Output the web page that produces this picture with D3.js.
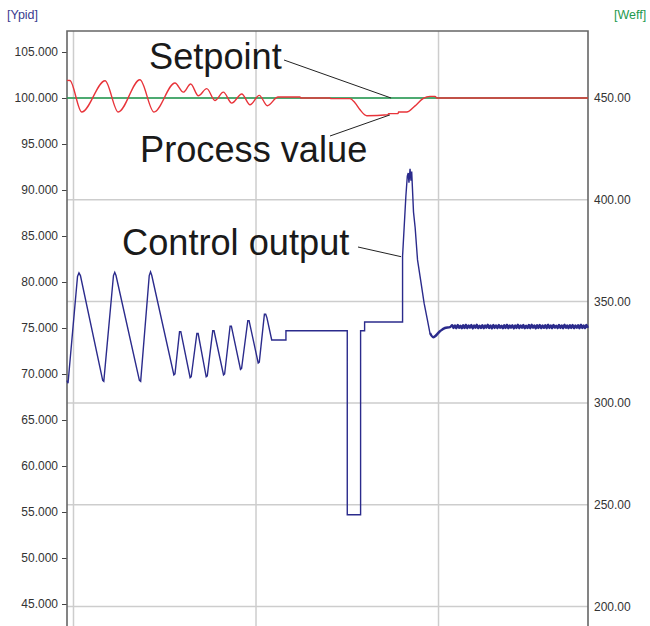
<!DOCTYPE html>
<html>
<head>
<meta charset="utf-8">
<script src="https://cdn.jsdelivr.net/npm/d3@7"></script>
<style>
  body { margin: 0; background: #fff; }
  svg { display: block; }
</style>
</head>
<body>
<svg id="main"></svg>
<script>
// time axis (no labels), vertical grid every 100
var gridT = [0, 100, 200];
var leftTicks = [105, 100, 95, 90, 85, 80, 75, 70, 65, 60, 55, 50, 45];
var rightTicks = [450, 400, 350, 300, 250, 200];

// setpoint (Weff)
var spT = [-3.56, 281.9];
var spV = [450, 450];

// process value (Weff)
var pvT = [-3.56, -2.0, 4.5, 17.3, 24.5, 36.4, 44.1, 55.6, 60.2, 64.2, 68.4, 73.0, 77.5, 82.1, 86.7, 92.2, 96.7,
  101.8, 106.2, 112.1, 124.1, 124.6, 140.5, 141.0, 151.5, 154.2, 157.0, 160.7, 172.3, 172.6, 177.8, 178.1,
  182.6, 187.0, 191.5, 195.3, 198.1, 199.2, 281.9];
var pvV = [458.65, 458.6, 443.1, 458.5, 443.1, 459.0, 443.1, 457.4, 452.9, 456.9, 451.1, 454.6, 448.8, 452.9, 447.5, 452.0, 446.7,
  451.3, 446.2, 450.5, 450.5, 450.0, 450.0, 449.7, 449.7, 447.7, 444.2, 441.3, 441.8, 442.3, 442.3, 443.1,
  443.1, 446.0, 449.65, 450.8, 450.8, 450.0, 450.0];

// control output (Ypid)
var coT = [-3.56, -3.0, 2.2, 3.0, 3.8, 16.0, 16.6, 21.9, 22.6, 23.3, 36.1, 36.8, 41.5, 42.2, 42.9, 55.0, 55.6, 58.1, 58.8,
  63.9, 64.5, 67.6, 68.3, 72.7, 73.3, 76.3, 77.0, 82.2, 82.8, 85.8, 86.5, 91.5, 92.1, 95.5, 96.2,
  101.2, 101.8, 104.6, 105.3, 106.0, 108.6, 116.4, 116.4, 150.0, 150.0, 157.3, 157.3, 159.5, 159.5, 180.3, 180.3,
  182.1, 182.9, 183.4, 183.8, 184.4, 184.9, 185.3, 186.3, 187.2, 188.5, 190.2, 192.1, 193.8, 195.3, 197.1, 200.8,
  203.5, 206.3];
var coV = [69.3, 69.0, 80.6, 81.0, 80.7, 69.3, 69.2, 80.7, 81.05, 80.7, 69.3, 69.2, 80.7, 81.1, 80.7, 69.9, 70.0, 74.6, 74.6,
  69.6, 69.7, 74.4, 74.4, 69.7, 69.8, 74.7, 74.7, 69.9, 70.0, 75.2, 75.2, 70.5, 70.6, 75.8, 75.8,
  71.2, 71.3, 76.5, 76.5, 76.1, 73.7, 73.7, 74.7, 74.7, 54.7, 54.7, 74.7, 74.7, 75.65, 75.65, 82.8,
  89.3, 91.5, 91.85, 90.8, 92.3, 91.0, 92.0, 87.6, 85.9, 82.4, 80.2, 77.7, 76.0, 74.45, 74.0, 74.65,
  75.0, 75.1];
// steady noisy tail, sampled every 0.75 from 207.5
var tailStart = 207.5, tailStep = 0.75;
var tailV = [75.3, 75.0, 75.28, 74.98, 75.34, 75.02, 75.26, 74.96, 75.3, 75.0, 75.36, 74.98, 75.27, 75.03, 75.32, 74.95,
  75.29, 75.01, 75.35, 74.97, 75.26, 75.0, 75.31, 74.96, 75.28, 75.02, 75.36, 74.99, 75.27, 74.95, 75.33, 75.0,
  75.29, 74.98, 75.34, 75.03, 75.26, 74.96, 75.3, 75.0, 75.37, 74.97, 75.28, 75.02, 75.31, 74.95, 75.27, 75.0,
  75.35, 74.98, 75.29, 75.01, 75.33, 74.96, 75.26, 75.0, 75.32, 74.97, 75.36, 75.02, 75.28, 74.95, 75.3, 75.0,
  75.34, 74.98, 75.27, 75.01, 75.31, 74.96, 75.35, 75.0, 75.28, 74.97, 75.32, 75.03, 75.26, 74.98, 75.33, 75.0,
  75.29, 74.96, 75.36, 75.01, 75.27, 74.97, 75.31, 75.0, 75.34, 74.98, 75.28, 75.02, 75.3, 74.96, 75.35, 75.0,
  75.27, 74.98, 75.32, 75.01];

var chart = { width: 650, height: 626, left: 67, right: 588, top: 31 };

var svg = d3.select("#main").attr("width", chart.width).attr("height", chart.height);

var x = d3.scaleLinear().domain([-3.56, 281.9]).range([chart.left, chart.right]);
var yL = d3.scaleLinear().domain([105, 45]).range([52, 604]);
var yR = d3.scaleLinear().domain([450, 200]).range([98, 606.5]);

// grid
svg.append("g").selectAll("line").data(rightTicks).join("line")
  .attr("x1", chart.left).attr("x2", chart.right)
  .attr("y1", d => yR(d)).attr("y2", d => yR(d))
  .attr("stroke", "#cdcdcd").attr("stroke-width", 1.5);
svg.append("g").selectAll("line").data(gridT).join("line")
  .attr("x1", d => x(d)).attr("x2", d => x(d))
  .attr("y1", chart.top).attr("y2", chart.height)
  .attr("stroke", "#cdcdcd").attr("stroke-width", 1.5);

// axes
var axL = svg.append("g").attr("transform", "translate(" + chart.left + ",0)")
  .call(d3.axisLeft(yL).tickValues(leftTicks).tickFormat(d3.format(".3f")).tickSize(5).tickPadding(4));
var axR = svg.append("g").attr("transform", "translate(" + chart.right + ",0)")
  .call(d3.axisRight(yR).tickValues(rightTicks).tickFormat(d3.format(".2f")).tickSize(0).tickPadding(6));
[axL, axR].forEach(function(a) {
  a.select(".domain").remove();
  a.selectAll("text").attr("font-family", "Liberation Sans, Arial, sans-serif").attr("font-size", 12).attr("fill", "#333");
  a.selectAll("line").attr("stroke", "#444");
});

// frame
svg.append("path")
  .attr("d", "M" + chart.left + "," + chart.height + "V" + chart.top + "H" + chart.right + "V" + chart.height)
  .attr("fill", "none").attr("stroke", "#666").attr("stroke-width", 1.6);

// axis titles
svg.append("text").attr("x", 7).attr("y", 19).text("[Ypid]")
  .attr("font-family", "Liberation Sans, Arial, sans-serif").attr("font-size", 12.5).attr("fill", "#3b3b8f");
svg.append("text").attr("x", 614).attr("y", 19).text("[Weff]")
  .attr("font-family", "Liberation Sans, Arial, sans-serif").attr("font-size", 12.5).attr("fill", "#1f9a4e");

// series
var sp = spT.map((t, i) => [t, spV[i]]);
var pv = pvT.map((t, i) => [t, pvV[i]]);
var co = coT.map((t, i) => [t, coV[i]]);
// noisy part starts at the undershoot minimum
var splitT = 195.3;
var coMain = co.filter(d => d[0] <= splitT);
var tail = co.filter(d => d[0] >= splitT).concat(tailV.map((v, i) => [tailStart + i * tailStep, v]));

svg.append("path").datum(sp)
  .attr("d", d3.line().x(d => x(d[0])).y(d => yR(d[1])))
  .attr("fill", "none").attr("stroke", "#1f9a4e").attr("stroke-width", 1.5);

svg.append("path").datum(pv)
  .attr("d", d3.line().x(d => x(d[0])).y(d => yR(d[1])).curve(d3.curveMonotoneX))
  .attr("fill", "none").attr("stroke", "#e8343a").attr("stroke-width", 1.4);

svg.append("path").datum(coMain)
  .attr("d", d3.line().x(d => x(d[0])).y(d => yL(d[1])))
  .attr("fill", "none").attr("stroke", "#2b2b8c").attr("stroke-width", 1.4);

svg.append("path").datum(tail)
  .attr("d", d3.line().x(d => x(d[0])).y(d => yL(d[1])).curve(d3.curveMonotoneX))
  .attr("fill", "none").attr("stroke", "#2b2b8c").attr("stroke-width", 2.4);

// annotations
var notes = [
  { text: "Setpoint", tx: 149, ty: 69, lx: 284, ly: 60, t: 174, v: 450, axis: yR },
  { text: "Process value", tx: 140, ty: 162, lx: 330, ly: 136, t: 173.4, v: 441.7, axis: yR },
  { text: "Control output", tx: 122, ty: 255, lx: 358, ly: 247, t: 179.5, v: 82.75, axis: yL }
];
svg.append("g").selectAll("line").data(notes).join("line")
  .attr("x1", d => d.lx).attr("y1", d => d.ly)
  .attr("x2", d => x(d.t)).attr("y2", d => d.axis(d.v))
  .attr("stroke", "#222").attr("stroke-width", 1);
svg.append("g").selectAll("text").data(notes).join("text")
  .attr("x", d => d.tx).attr("y", d => d.ty).text(d => d.text)
  .attr("font-family", "Liberation Sans, Arial, sans-serif").attr("font-size", 36.2).attr("fill", "#1a1a1a");
</script>
</body>
</html>
